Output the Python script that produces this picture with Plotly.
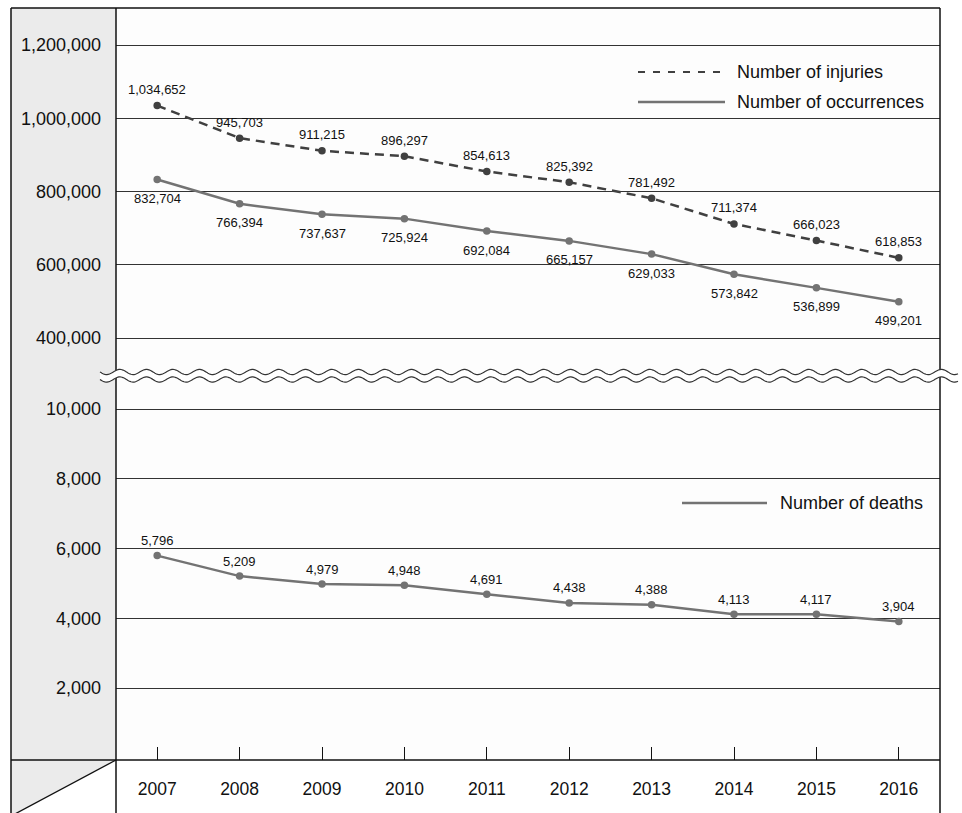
import math
import plotly.graph_objects as go

# ---------------- data ----------------
years = [2007, 2008, 2009, 2010, 2011, 2012, 2013, 2014, 2015, 2016]
injuries = [1034652, 945703, 911215, 896297, 854613, 825392, 781492, 711374, 666023, 618853]
occurrences = [832704, 766394, 737637, 725924, 692084, 665157, 629033, 573842, 536899, 499201]
deaths = [5796, 5209, 4979, 4948, 4691, 4438, 4388, 4113, 4117, 3904]
top_ticks = [400000, 600000, 800000, 1000000, 1200000]
bottom_ticks = [2000, 4000, 6000, 8000, 10000]
legend_top = ["Number of injuries", "Number of occurrences"]
legend_bottom = ["Number of deaths"]

# ---------------- geometry (pixels) ----------------
W, H = 962, 813
L, R, T, B = 116, 940, 8, 760
BREAK = 376


def px(x):
    return (x - L) / (R - L)


def py(y):
    return (B - y) / (B - T)


split = py(BREAK)

FONT = "Liberation Sans, Arial, Helvetica, sans-serif"
INJ_C = "#404040"
OCC_C = "#737373"
GRID_C = "#333333"
FRAME_C = "#111111"
PANEL_C = "#ebebeb"
TXT_C = "#111111"

fig = go.Figure()

fig.add_trace(go.Scatter(
    x=years, y=injuries, xaxis="x2", yaxis="y2", mode="lines+markers",
    line=dict(color=INJ_C, width=2.5, dash="9px,6px"),
    marker=dict(size=7.5, color=INJ_C),
    showlegend=False, cliponaxis=False, name=legend_top[0]))

fig.add_trace(go.Scatter(
    x=years, y=occurrences, xaxis="x2", yaxis="y2", mode="lines+markers",
    line=dict(color=OCC_C, width=2.5),
    marker=dict(size=7.5, color=OCC_C),
    showlegend=False, cliponaxis=False, name=legend_top[1]))

fig.add_trace(go.Scatter(
    x=years, y=deaths, xaxis="x", yaxis="y", mode="lines+markers",
    line=dict(color=OCC_C, width=2.5),
    marker=dict(size=7.5, color=OCC_C),
    showlegend=False, cliponaxis=False, name=legend_bottom[0]))

# ---------------- data labels (anchored to data coordinates) ----------------
annotations = []


def add_labels(xs, vals, xref, yref, shift):
    for xv, v in zip(xs, vals):
        annotations.append(dict(
            text=f"{v:,}", x=xv, y=v, xref=xref, yref=yref,
            xanchor="center", yanchor="middle", yshift=shift,
            showarrow=False, font=dict(size=13, color=TXT_C, family=FONT)))


add_labels(years, injuries, "x2", "y2", 16)
add_labels(years, occurrences, "x2", "y2", -19)
add_labels(years, deaths, "x", "y", 15)

# ---------------- shapes ----------------
shapes = []
shapes.append(dict(type="rect", xref="paper", yref="paper",
                   x0=px(11), x1=px(116), y0=py(760), y1=py(8),
                   fillcolor=PANEL_C, line=dict(width=0), layer="below"))
shapes.append(dict(type="path", xref="paper", yref="paper",
                   path=f"M {px(11)},{py(760)} L {px(116)},{py(760)} L {px(13)},{py(815)} L {px(11)},{py(815)} Z",
                   fillcolor=PANEL_C, line=dict(width=0), layer="below"))
shapes.append(dict(type="line", xref="paper", yref="paper",
                   x0=px(116), y0=py(760), x1=px(13), y1=py(815),
                   line=dict(color=FRAME_C, width=1.3), layer="above"))
frame = [
    (11, 8, 11, 815), (116, 8, 116, 815), (940, 8, 940, 815),
    (11, 8, 940, 8), (11, 760, 940, 760),
]
for x0, y0, x1, y1 in frame:
    shapes.append(dict(type="line", xref="paper", yref="paper",
                       x0=px(x0), y0=py(y0), x1=px(x1), y1=py(y1),
                       line=dict(color=FRAME_C, width=1.5), layer="above"))

# wavy break band
xs = list(range(100, 959))
amp, per = 2.6, 26.5
top_wave = [(x, 372 + amp * math.sin(2 * math.pi * (x - 100) / per)) for x in xs]
bot_wave = [(x, 379.5 + amp * math.sin(2 * math.pi * (x - 100) / per)) for x in xs]


def path_of(pts):
    return "M " + " L ".join(f"{px(x):.5f},{py(y):.5f}" for x, y in pts)


band = path_of(top_wave + bot_wave[::-1]) + " Z"
shapes.append(dict(type="path", xref="paper", yref="paper", path=band,
                   fillcolor="#ffffff", line=dict(width=0), layer="above"))
for wave in (top_wave, bot_wave):
    shapes.append(dict(type="path", xref="paper", yref="paper", path=path_of(wave),
                       line=dict(color="#333333", width=1.2), layer="above"))

# legend samples
shapes.append(dict(type="line", xref="paper", yref="paper",
                   x0=px(638), x1=px(725), y0=py(72), y1=py(72),
                   line=dict(color=INJ_C, width=2, dash="7px,8px"), layer="above"))
shapes.append(dict(type="line", xref="paper", yref="paper",
                   x0=px(638), x1=px(725), y0=py(102), y1=py(102),
                   line=dict(color=OCC_C, width=2.5), layer="above"))
shapes.append(dict(type="line", xref="paper", yref="paper",
                   x0=px(682), x1=px(767), y0=py(503), y1=py(503),
                   line=dict(color=OCC_C, width=2.5), layer="above"))

annotations += [
    dict(text=legend_top[0], xref="paper", yref="paper", x=px(735), y=py(72),
         xanchor="left", yanchor="middle", showarrow=False,
         font=dict(size=18, color=TXT_C, family=FONT)),
    dict(text=legend_top[1], xref="paper", yref="paper", x=px(735), y=py(102),
         xanchor="left", yanchor="middle", showarrow=False,
         font=dict(size=18, color=TXT_C, family=FONT)),
    dict(text=legend_bottom[0], xref="paper", yref="paper", x=px(778), y=py(503),
         xanchor="left", yanchor="middle", showarrow=False,
         font=dict(size=18, color=TXT_C, family=FONT)),
]

# value ranges mapped to pixel extents
top_px_per = (338 - 45) / (1200000 - 400000)
top_range = [400000 - (BREAK - 338) / top_px_per, 1200000 + (45 - T) / top_px_per]
bot_px_per = (688 - 409) / (10000 - 2000)
zero_px = 688 + 2000 * bot_px_per
bot_range = [-(B - zero_px) / bot_px_per, (zero_px - BREAK) / bot_px_per]

fig.update_layout(
    width=W, height=H,
    margin=dict(l=L, r=W - R, t=T, b=H - B, pad=0),
    paper_bgcolor="#ffffff", plot_bgcolor="#fdfdfd",
    font=dict(family=FONT, color=TXT_C),
    showlegend=False, hovermode=False,
    shapes=shapes, annotations=annotations,
    xaxis=dict(domain=[0, 1], anchor="y", range=[2006.5, 2016.5],
               tickvals=years, ticktext=[str(y) for y in years],
               ticks="inside", ticklen=13, tickwidth=1.2, tickcolor=FRAME_C,
               showgrid=False, zeroline=False, showline=False,
               tickfont=dict(size=17.5, family=FONT, color=TXT_C),
               ticklabelstandoff=16, fixedrange=True),
    xaxis2=dict(domain=[0, 1], anchor="y2", range=[2006.5, 2016.5], matches="x",
                visible=False, showgrid=False, zeroline=False),
    yaxis=dict(domain=[0, split], anchor="x", range=bot_range,
               tickvals=bottom_ticks, tickformat=",d",
               showgrid=True, gridcolor=GRID_C, gridwidth=1,
               zeroline=False, showline=False, ticks="",
               tickfont=dict(size=18, family=FONT, color=TXT_C),
               ticklabelstandoff=14),
    yaxis2=dict(domain=[split, 1], anchor="x2", range=top_range,
                tickvals=top_ticks, tickformat=",d",
                showgrid=True, gridcolor=GRID_C, gridwidth=1,
                zeroline=False, showline=False, ticks="",
                tickfont=dict(size=18, family=FONT, color=TXT_C),
                ticklabelstandoff=14),
)

fig.write_html("out.html",
               config={"displayModeBar": False, "staticPlot": False},
               post_script="document.body.style.margin='0px';document.body.style.overflow='hidden';")
